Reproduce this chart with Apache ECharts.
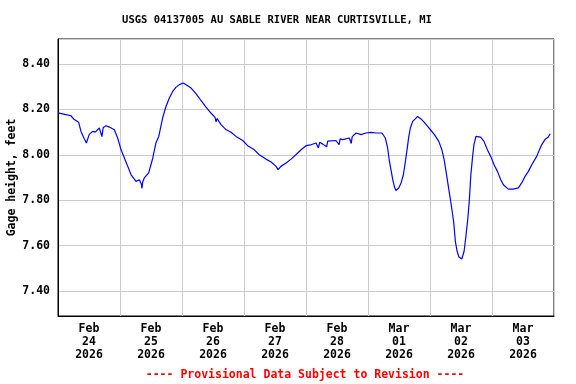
<!DOCTYPE html>
<html>
<head>
<meta charset="utf-8">
<script src="https://cdn.jsdelivr.net/npm/echarts@6/dist/echarts.min.js"></script>
<style>
html,body{margin:0;padding:0;background:#fff;}
#chart{width:576px;height:384px;}
</style>
</head>
<body>
<div id="chart"></div>
<script>
// Hours since 2026-02-24 00:00 (local) and gage height in feet
var hours = [0, 3.1, 5.0, 6.3, 8.0, 8.9, 10.2, 11.0, 12.1, 13.4, 14.4, 16.0, 17.0, 17.5, 18.6, 19.9, 21.8, 23.1,
  24.4, 25.7, 27.0, 28.3, 30.2, 31.5, 32.3, 32.5, 32.8, 33.4, 35.1, 36.7, 37.9, 39.0, 40.5, 41.8, 43.1, 44.4, 45.7,
  47.0, 48.5, 50.2, 51.5, 53.4, 55.1, 57.3, 59.2, 60.8, 61.2, 61.6, 63.1, 65.0, 67.0, 68.9, 71.5, 73.4, 76.0, 77.9,
  80.5, 82.5, 84.4, 85.2, 86.3, 88.3, 90.2, 92.1, 94.1, 96.0, 97.9, 99.9, 100.8, 101.3, 102.5, 104.0, 104.4, 105.0,
  107.6, 108.8, 109.2, 110.2, 112.8, 113.5, 113.9,
  115.4, 117.3, 119.2, 121.2, 123.1, 125.4, 126.7, 127.6, 128.2, 128.9, 129.6, 130.2, 130.8, 131.9, 132.8,
  133.7, 134.4, 135.1, 135.8, 136.4, 137.3, 138.3, 139.2, 140.5, 141.8, 143.1, 144.4, 145.7, 147.4, 148.6,
  149.5, 150.5, 151.5, 152.5, 153.2, 153.8, 154.5, 155.2, 156.3, 156.6, 157.2, 157.9, 158.6, 159.2, 159.8,
  160.5, 161.0, 161.8, 162.5, 163.6, 164.9, 166.2, 167.5, 168.8, 170.1, 171.4, 172.4, 174.3, 176.2, 178.2,
  179.5, 180.8, 182.1, 183.4, 185.3, 187.2, 188.5, 189.8, 190.5];
var gage = [8.185, 8.177, 8.172, 8.155, 8.143, 8.103, 8.07, 8.052, 8.09, 8.103, 8.10, 8.118, 8.08, 8.12, 8.128, 8.122, 8.11, 8.074,
  8.022, 7.986, 7.949, 7.912, 7.883, 7.89, 7.87, 7.852, 7.88, 7.898, 7.92, 7.986, 8.052, 8.081, 8.162, 8.213, 8.25, 8.279, 8.298,
  8.309, 8.316, 8.304, 8.294, 8.269, 8.243, 8.21, 8.184, 8.165, 8.145, 8.16, 8.133, 8.111, 8.099, 8.081, 8.063, 8.04, 8.022, 8.0,
  7.981, 7.968, 7.949, 7.935, 7.949, 7.964, 7.981, 8.0, 8.022, 8.04, 8.044, 8.052, 8.03, 8.055, 8.047, 8.035, 8.06, 8.055,
  8.063, 8.045, 8.07, 8.067, 8.074, 8.05, 8.08,
  8.096, 8.089, 8.096, 8.099, 8.096, 8.096, 8.074, 8.03, 7.978, 7.934, 7.89, 7.86, 7.843, 7.854, 7.876,
  7.912, 7.964, 8.022, 8.081, 8.118, 8.147, 8.158, 8.169, 8.158, 8.143, 8.125, 8.107, 8.089, 8.059, 8.022,
  7.978, 7.905, 7.832, 7.758, 7.70, 7.62, 7.575, 7.55, 7.541, 7.535, 7.575, 7.641, 7.714, 7.795, 7.91,
  7.993, 8.044, 8.081, 8.089, 8.078, 8.059, 8.022, 7.993, 7.956, 7.927, 7.89, 7.868, 7.849, 7.849, 7.854,
  7.876, 7.905, 7.927, 7.956, 7.993, 8.044, 8.067, 8.078, 8.093];
var dayLabels = ["Feb\n24\n2026", "Feb\n25\n2026", "Feb\n26\n2026", "Feb\n27\n2026",
  "Feb\n28\n2026", "Mar\n01\n2026", "Mar\n02\n2026", "Mar\n03\n2026"];
var titleText = "USGS 04137005 AU SABLE RIVER NEAR CURTISVILLE, MI";
var yName = "Gage height, feet";
var footerText = "---- Provisional Data Subject to Revision ----";

var FONT = '"DejaVu Sans Mono", "Liberation Mono", monospace';
var data = hours.map(function (h, i) { return [h, gage[i]]; });

var chart = echarts.init(document.getElementById('chart'), null, {renderer: 'canvas'});
chart.setOption({
  animation: false,
  backgroundColor: '#ffffff',
  grid: {left: 58, top: 39, right: 22, bottom: 68, show: true, borderColor: '#000', borderWidth: 1,
    containLabel: false, outerBoundsMode: 'none'},
  graphic: [
    {type: 'text', x: 277, y: 20, style: {text: titleText, align: 'center', verticalAlign: 'middle',
      font: 'bold 10.5px ' + FONT, fill: '#000'}},
    {type: 'text', x: 305, y: 375, style: {text: footerText, align: 'center', verticalAlign: 'middle',
      font: 'bold 11.5px ' + FONT, fill: '#ff0000'}}
  ],
  xAxis: [
    {type: 'value', min: 0, max: 192, interval: 24,
      axisLine: {show: true, onZero: false, lineStyle: {color: '#000', width: 1}},
      axisTick: {show: false}, axisLabel: {show: false},
      splitLine: {show: true, lineStyle: {color: '#cccccc', width: 1}}},
    {type: 'value', min: 0, max: 192, interval: 12, position: 'bottom',
      axisLine: {show: false}, axisTick: {show: false}, splitLine: {show: false},
      axisLabel: {show: true, margin: 7, color: '#000', fontFamily: FONT, fontWeight: 'bold', fontSize: 11.5,
        lineHeight: 13, align: 'center', showMinLabel: true, showMaxLabel: true,
        formatter: function (v) {
          if (v % 24 === 12) { return dayLabels[(v - 12) / 24] || ''; }
          return '';
        }}}
  ],
  yAxis: {type: 'value', min: 7.29, max: 8.51, splitNumber: 6,
    name: yName, nameLocation: 'middle', nameGap: 40, nameRotate: 90, nameMoveOverlap: false,
    nameTextStyle: {color: '#000', fontFamily: FONT, fontWeight: 'bold', fontSize: 11.5},
    axisLine: {show: true, onZero: false, lineStyle: {color: '#000', width: 1}}, axisTick: {show: false},
    axisLabel: {margin: 8, color: '#000', fontFamily: FONT, fontWeight: 'bold', fontSize: 11.5,
      showMinLabel: false, showMaxLabel: false,
      formatter: function (v) { return v.toFixed(2); }},
    splitLine: {show: true, lineStyle: {color: '#cccccc', width: 1}}},
  series: [{
    type: 'line', xAxisIndex: 0, data: data, showSymbol: false, symbol: 'none',
    lineStyle: {color: '#0000ff', width: 1.2}, itemStyle: {color: '#0000ff'}
  }]
});
</script>
</body>
</html>
